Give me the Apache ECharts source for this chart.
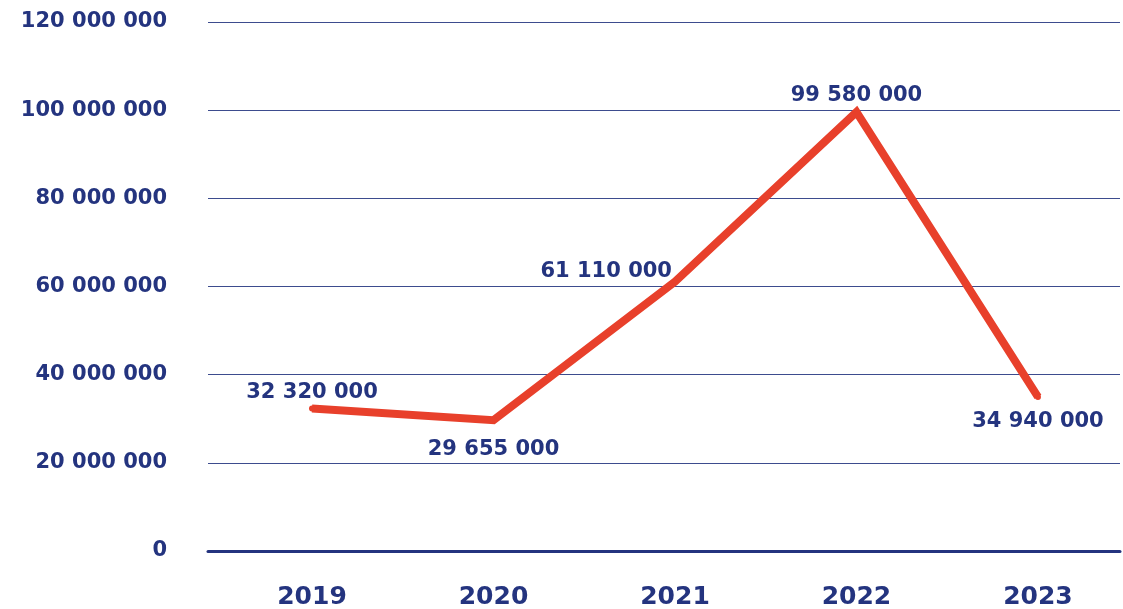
<!DOCTYPE html>
<html>
<head>
<meta charset="utf-8">
<script src="https://cdn.jsdelivr.net/npm/echarts@6/dist/echarts.min.js"></script>
<style>
  html, body { margin: 0; padding: 0; background: #fff; }
  #chart { width: 1123px; height: 609px; }
</style>
</head>
<body>
<div id="chart"></div>
<script>
  // data
  var years = [2019, 2020, 2021, 2022, 2023];
  var amounts = [32320000, 29655000, 61110000, 99580000, 34940000];
  var yTicks = [0, 20000000, 40000000, 60000000, 80000000, 100000000, 120000000];

  var navy = '#24347f';
  var red = '#e8402b';
  var font = 'DejaVu Sans';

  // label placement for each point
  var labelPlace = [
    { position: 'top', offset: [0, 3] },
    { position: 'bottom', offset: [0, 11] },
    { position: 'left', offset: [5, -10] },
    { position: 'top', offset: [0, 2] },
    { position: 'bottom', offset: [0, 6] }
  ];

  function spaced(v) {
    return String(v).replace(/\B(?=(\d{3})+(?!\d))/g, ' ');
  }

  var seriesData = years.map(function (y, i) {
    return { value: [y, amounts[i]], label: labelPlace[i] };
  });

  var chart = echarts.init(document.getElementById('chart'));
  chart.setOption({
    animation: false,
    grid: { left: 208, right: 3, top: 22, bottom: 58, outerBoundsMode: 'none', containLabel: false },
    xAxis: {
      type: 'value',
      min: 2018.427,
      max: 2023.452,
      axisLine: { show: true, onZero: true, lineStyle: { color: navy, width: 3 } },
      axisTick: { show: false },
      splitLine: { show: false },
      axisLabel: {
        customValues: years,
        formatter: function (v) { return String(v); },
        color: navy,
        fontFamily: font,
        fontWeight: 'bold',
        fontSize: 25,
        margin: 34
      }
    },
    yAxis: {
      type: 'value',
      min: yTicks[0],
      max: yTicks[yTicks.length - 1],
      interval: 20000000,
      axisLine: { show: false },
      axisTick: { show: false },
      splitLine: { lineStyle: { color: '#3d4c8e', width: 1 } },
      axisLabel: {
        formatter: spaced,
        color: navy,
        fontFamily: font,
        fontWeight: 'bold',
        fontSize: 21,
        margin: 41
      }
    },
    series: [{
      type: 'line',
      data: seriesData,
      symbol: 'circle',
      symbolSize: 6,
      showSymbol: true,
      itemStyle: { color: red },
      lineStyle: { color: red, width: 8, join: 'miter' },
      label: {
        show: true,
        formatter: function (p) { return spaced(p.value[1]); },
        color: navy,
        fontFamily: font,
        fontWeight: 'bold',
        fontSize: 21
      }
    }]
  });
</script>
</body>
</html>
